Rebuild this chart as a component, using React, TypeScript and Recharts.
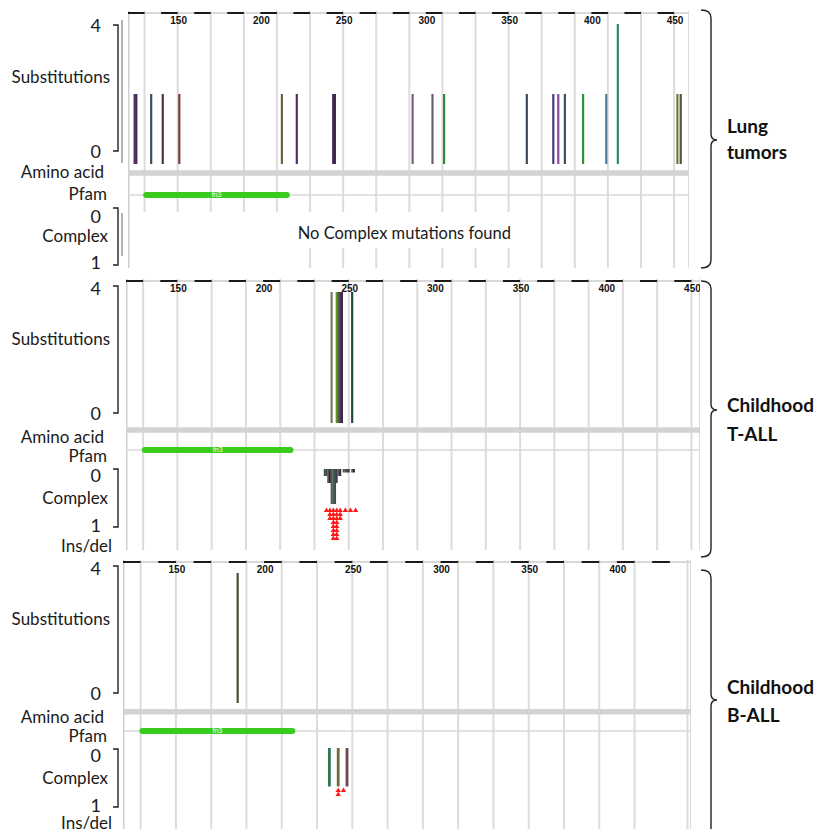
import React from 'react';
import {
  ComposedChart,
  Line,
  Scatter,
  XAxis,
  YAxis,
  CartesianGrid,
  ReferenceLine,
  ReferenceArea,
  ReferenceDot,
} from 'recharts';

const FONT = 'Lato, "Noto Sans", sans-serif';

// amino-acid ruler labels and the Pfam fn3 domain
const rulerLabels = [150, 200, 250, 300, 350, 400, 450];
const fn3Domain = [131, 216];

// Lung tumors: substitutions
const lungSubPos = [124, 125, 134, 141, 151, 213, 222, 244, 245, 292, 304, 311, 361, 377, 380, 384, 395, 409, 416, 452, 454];
const lungSubCount = [2, 2, 2, 2, 2, 2, 2, 2, 2, 2, 2, 2, 2, 2, 2, 2, 2, 2, 4, 2, 2];
const lungSubColors = ['#5b2d6b', '#3e2a4a', '#3f4d5f', '#4a3446', '#7b3b3b', '#6e6444', '#4e2f66', '#4b2a5c', '#3a2448', '#7d5f86', '#6b5c6e', '#2e8b2e', '#3c4b5a', '#4a3b7a', '#8a4d9c', '#3b5266', '#2f8f3a', '#4f7f9c', '#2e8a5e', '#5f7f2f', '#5a4c4c'];

// Childhood T-ALL
const tallSubPos = [240, 243, 244, 245, 246, 252];
const tallSubCount = [4, 4, 4, 4, 4, 4];
const tallSubColors = ['#7a7a5e', '#6e8f2a', '#3d6b3d', '#5c2b7a', '#3a2c3a', '#1f4a3a'];
const tallCxPos = [236, 237, 238, 239, 240, 241, 242, 243, 244, 245, 247, 248, 249, 250, 252, 253];
const tallCxCount = [2, 2, 4, 4, 10, 10, 10, 4, 2, 2, 1, 1, 1, 1, 1, 1];
const tallCxColors = ['#2f5a3f', '#4a3a5e', '#5e5e44', '#2b2b2b', '#3f5f6a', '#6a4a5a'];
const tallIndelPos = [237, 239, 241, 243, 245, 248, 251, 254];
const tallIndelCount = [1, 3, 8, 8, 3, 1, 1, 1];

// Childhood B-ALL
const ballSubPos = [185];
const ballSubCount = [4];
const ballSubColors = ['#4d4a33'];
const ballCxPos = [237, 242, 247];
const ballCxCount = [11, 11, 11];
const ballCxColors = ['#2e7a4e', '#6b6a3a', '#6b4a4a'];
const ballIndelPos = [242, 245];
const ballIndelCount = [2, 1];

const panels = [
  {
    top: 11, left: 128, width: 561, height: 257, max: 459,
    ruler: 2, base: 153, subPx: 35, amino: 162, pfam: 184, cxZero: 190, idZero: 229,
    sub: [lungSubPos, lungSubCount, lungSubColors], cx: null, indel: null, empty: true,
  },
  {
    top: 279, left: 126, width: 574, height: 271, max: 455,
    ruler: 2, base: 144, subPx: 32.75, amino: 151, pfam: 171, cxZero: 190, idZero: 229,
    sub: [tallSubPos, tallSubCount, tallSubColors], cx: [tallCxPos, tallCxCount, tallCxColors],
    indel: [tallIndelPos, tallIndelCount], empty: false,
  },
  {
    top: 560, left: 123, width: 568, height: 269, max: 442,
    ruler: 2, base: 143, subPx: 32.5, amino: 151.7, pfam: 171, cxZero: 188, idZero: 228,
    sub: [ballSubPos, ballSubCount, ballSubColors], cx: [ballCxPos, ballCxCount, ballCxColors],
    indel: [ballIndelPos, ballIndelCount], empty: false,
  },
];

const CX_PX = 3.5;
const ID_PX = 4;

const Tri = (props: any) => {
  const { cx, cy } = props;
  return <polygon points={`${cx - 2.7},${cy + 2} ${cx + 2.7},${cy + 2} ${cx},${cy - 2.4}`} fill="#ff1a1a" />;
};

const Track = ({ p }: { p: any }) => {
  const gridTicks: number[] = [];
  for (let t = 120; t <= p.max; t += 10) gridTicks.push(t);
  const dashes: any[] = [];
  for (let t = 120; t + 10 <= p.max; t += 20) {
    dashes.push({ pos: t, v: p.ruler }, { pos: t + 10, v: p.ruler }, { pos: t + 10, v: null });
  }
  const labels = rulerLabels.filter((t) => t <= p.max);
  const h = p.height;
  const subDomain = [(p.base - h) / p.subPx, p.base / p.subPx];
  const cxDomain = [-p.cxZero / CX_PX, (h - p.cxZero) / CX_PX];
  const idDomain = [-p.idZero / ID_PX, (h - p.idZero) / ID_PX];
  const [subPos, subCount, subColors] = p.sub;
  const indelPts = p.indel
    ? p.indel[0].flatMap((a: number, i: number) =>
        Array.from({ length: p.indel[1][i] }, (_, k) => ({ pos: a, v: k + 0.5 })))
    : [];

  const RulerTick = (tp: any) => (
    <text x={tp.x + 1} y={p.ruler + 11} textAnchor="middle" fontSize={10} fontWeight="bold"
      fontFamily="'Liberation Sans', Arial, sans-serif" fill="#111">
      {tp.payload.value}
    </text>
  );

  return (
    <div style={{ position: 'absolute', left: p.left, top: p.top }}>
      <ComposedChart width={p.width} height={h} margin={{ top: 0, right: 0, bottom: 0, left: 0 }}>
        <XAxis xAxisId="x" dataKey="pos" type="number" domain={[120, p.max]} ticks={gridTicks} allowDataOverflow hide />
        <XAxis xAxisId="lab" dataKey="pos" type="number" domain={[120, p.max]} ticks={labels} interval={0}
          allowDataOverflow orientation="top" mirror axisLine={false} tickLine={false} tick={RulerTick} />
        <YAxis yAxisId="px" type="number" domain={[0, h]} reversed allowDataOverflow hide />
        <YAxis yAxisId="sub" type="number" domain={subDomain} allowDataOverflow hide />
        <YAxis yAxisId="cx" type="number" domain={cxDomain} reversed allowDataOverflow hide />
        <YAxis yAxisId="id" type="number" domain={idDomain} reversed allowDataOverflow hide />
        <CartesianGrid xAxisId="x" yAxisId="px" horizontal={false} stroke="#dcdcdc" strokeWidth={2} />
        <ReferenceLine xAxisId="x" yAxisId="px" x={120} stroke="#cfcfcf" strokeWidth={3} />
        <ReferenceLine xAxisId="x" yAxisId="px" y={p.ruler} stroke="#d8d8d8" strokeWidth={2} />
        <Line xAxisId="x" yAxisId="px" data={dashes} dataKey="v" stroke="#1a1a1a" strokeWidth={2}
          dot={false} activeDot={false} isAnimationActive={false} />
        <ReferenceLine xAxisId="x" yAxisId="px" y={p.amino} stroke="#d3d3d3" strokeWidth={5.5} />
        <ReferenceLine xAxisId="x" yAxisId="px" y={p.pfam} stroke="#d9d9d9" strokeWidth={1.5} />
        <Line xAxisId="x" yAxisId="px" data={[{ pos: fn3Domain[0], v: p.pfam }, { pos: fn3Domain[1], v: p.pfam }]}
          dataKey="v" stroke="#3acc1c" strokeWidth={6} strokeLinecap="round" dot={false} activeDot={false}
          isAnimationActive={false} />
        <ReferenceDot xAxisId="x" yAxisId="px" x={(fn3Domain[0] + fn3Domain[1]) / 2} y={p.pfam} r={0}
          fill="none" stroke="none"
          label={{ value: 'fn3', position: 'center', fill: '#fff', fontSize: 7, fontFamily: 'Arial' }} />
        {p.empty && (
          <ReferenceArea xAxisId="x" yAxisId="px" x1={121} x2={215} y1={201} y2={h} fill="#fff" fillOpacity={1} stroke="none" />
        )}
        {p.empty && (
          <ReferenceArea xAxisId="x" yAxisId="px" x1={212} x2={364} y1={201} y2={237} fill="#fff" fillOpacity={1} stroke="none" />
        )}
        {p.empty && (
          <ReferenceDot xAxisId="x" yAxisId="px" x={287} y={222} r={0} fill="none" stroke="none"
            label={{ value: 'No Complex mutations found', position: 'center', fill: '#1a1a1a', fontSize: 16.5, fontFamily: FONT }} />
        )}
        {subPos.map((a: number, i: number) => (
          <Line key={'s' + i} xAxisId="x" yAxisId="sub" data={[{ pos: a, v: 0 }, { pos: a, v: subCount[i] }]}
            dataKey="v" stroke={subColors[i]} strokeWidth={2.2} dot={false} activeDot={false}
            isAnimationActive={false} />
        ))}
        {p.cx && p.cx[0].map((a: number, i: number) => (
          <Line key={'c' + i} xAxisId="x" yAxisId="cx" data={[{ pos: a, v: 0 }, { pos: a, v: p.cx[1][i] }]}
            dataKey="v" stroke={p.cx[2][i % p.cx[2].length]} strokeWidth={p.cx[1][i] > 10 ? 2.8 : 2}
            dot={false} activeDot={false} isAnimationActive={false} />
        ))}
        {p.indel && (
          <Scatter xAxisId="x" yAxisId="id" data={indelPts} dataKey="v" shape={Tri} isAnimationActive={false} />
        )}
      </ComposedChart>
    </div>
  );
};

// left side labels: [text, y, rightX]
const sideNums = [
  ['4', 25], ['0', 151], ['0', 216], ['1', 262],
  ['4', 288], ['0', 413], ['0', 475], ['1', 525],
  ['4', 568], ['0', 693], ['0', 755], ['1', 805],
];
const sideWords = [
  ['Substitutions', 76, 110], ['Amino acid', 171, 104], ['Pfam', 193, 107], ['Complex', 235, 108],
  ['Substitutions', 338, 110], ['Amino acid', 436, 104], ['Pfam', 455, 107], ['Complex', 497, 108], ['Ins/del', 545, 112],
  ['Substitutions', 618, 110], ['Amino acid', 716, 104], ['Pfam', 735, 107], ['Complex', 777, 108], ['Ins/del', 822, 112],
];
const leftBrackets = [[25, 151], [208, 265], [286, 413], [469, 527], [566, 693], [749, 807]];
const braces = [[10, 268, 140], [281, 557, 410], [570, 845, 700]];
const groupNames = [['Lung', 125], ['tumors', 151], ['Childhood', 404], ['T-ALL', 433], ['Childhood', 686], ['B-ALL', 714]];

const brace = (x: number, top: number, bot: number, mid: number) =>
  `M${x - 10},${top} Q${x},${top} ${x},${top + 8} L${x},${mid - 6} Q${x},${mid} ${x + 6},${mid} ` +
  `Q${x},${mid} ${x},${mid + 6} L${x},${bot - 8} Q${x},${bot} ${x - 10},${bot}`;

const App = () => {
  return (
    <div style={{ position: 'absolute', left: 0, top: 0, width: 824, height: 829, background: '#fff', overflow: 'hidden' }}>
      <svg width={824} height={829} style={{ position: 'absolute', left: 0, top: 0 }}>
        {leftBrackets.map(([a, b], i) => (
          <path key={'lb' + i} d={`M113,${a} H118 V${b} H113`} fill="none" stroke="#222" strokeWidth={1.4} />
        ))}
        <line x1={122} y1={20} x2={122} y2={163} stroke="#666" strokeWidth={1} />
        <line x1={122} y1={213} x2={122} y2={256} stroke="#666" strokeWidth={1} />
        {braces.map(([t, b, m], i) => (
          <path key={'br' + i} d={brace(711, t, b, m)} fill="none" stroke="#222" strokeWidth={1.4} />
        ))}
        {sideNums.map(([s, y], i) => (
          <text key={'n' + i} x={101} y={y as number} textAnchor="end" dominantBaseline="central"
            fontSize={18} fontFamily={FONT} fill="#1a1a1a">{s}</text>
        ))}
        {sideWords.map(([s, y, x], i) => (
          <text key={'w' + i} x={x as number} y={y as number} textAnchor="end" dominantBaseline="central"
            fontSize={17} fontFamily={FONT} fill="#1a1a1a">{s}</text>
        ))}
        {groupNames.map(([s, y], i) => (
          <text key={'g' + i} x={727} y={y as number} dominantBaseline="central"
            fontSize={19} fontWeight="bold" fontFamily={FONT} fill="#111">{s}</text>
        ))}
      </svg>
      {panels.map((p, i) => (
        <Track key={i} p={p} />
      ))}
    </div>
  );
};

export default App;
